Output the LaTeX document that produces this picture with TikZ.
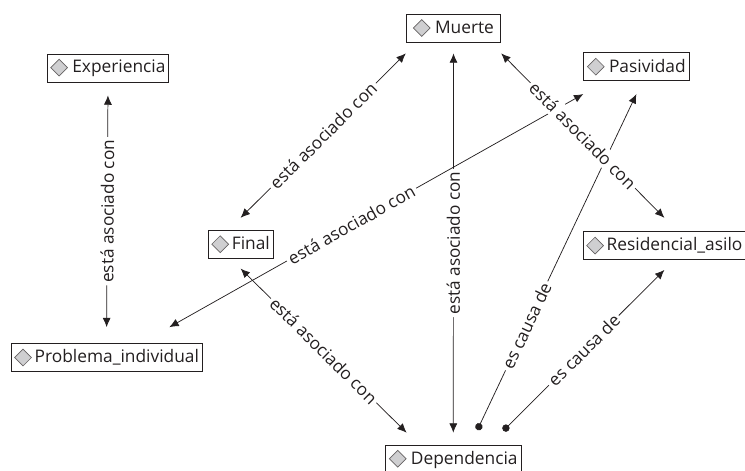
\documentclass[tikz,border=0pt]{standalone}
\usepackage{fontspec}
\setmainfont{Open Sans}
\usepackage{tikz}
\usetikzlibrary{positioning, arrows.meta}
\definecolor{inkline}{HTML}{231F20}
\definecolor{iconfill}{HTML}{CFCFD1}
\tikzstyle{concept} = [rectangle, draw=inkline, line width=0.6pt, inner xsep=2.5pt, inner ysep=1pt, minimum height=21pt, text=inkline, font=\fontsize{13}{15}\selectfont]
\tikzstyle{arrow} = [inkline, line width=0.55pt, {Latex[length=7pt,width=6pt]}-{Latex[length=7pt,width=6pt]}]
\tikzstyle{cause} = [inkline, line width=0.55pt, {Circle[length=5.5pt]}-{Latex[length=7pt,width=6pt]}]
\tikzstyle{linklabel} = [midway, sloped, fill=white, inner sep=2pt, text=inkline, font=\fontsize{12.9}{15}\selectfont]
\newcommand{\conceptmark}{\tikz[baseline=-4pt]\draw[inkline!70, line width=0.5pt, fill=iconfill] (0,6.3pt) -- (6.3pt,0) -- (0,-6.3pt) -- (-6.3pt,0) -- cycle;}
\begin{document}
\begin{tikzpicture}[node distance=1.2cm]
        \useasboundingbox (-340.1pt,21pt) rectangle (218.6pt,-331.5pt);
        \node (muerte) [concept, minimum width=71pt] {\conceptmark\ Muerte};
        \node (pasividad) [concept, right of=muerte, xshift=103pt, yshift=-29pt] {\conceptmark\ Pasividad};
        \node (experiencia) [concept, left of=muerte, xshift=-225pt, yshift=-30pt] {\conceptmark\ Experiencia};
        \node (final) [concept, below of=experiencia, xshift=99.5pt, yshift=-98pt] {\conceptmark\,Final};
        \node (problema) [concept, below of=experiencia, xshift=-1pt, yshift=-183pt] {\conceptmark\,Problema\_individual};
        \node (residencial) [concept, below of=pasividad, xshift=21pt, yshift=-100pt] {\conceptmark\,Residencial\_asilo};
        \node (dependencia) [concept, below of=problema, xshift=260pt, yshift=-42pt] {\conceptmark\ Dependencia};

        \draw [arrow] ([yshift=12pt]problema.north) -- ([yshift=-9.75pt]experiencia.south) node [linklabel] {está asociado con};
        \draw [arrow] ([yshift=-8.25pt]muerte.south west) -- ([yshift=9pt]final.north) node [linklabel] {está asociado con};
        \draw [arrow] ([yshift=9pt]dependencia.north) -- ([yshift=-8.25pt]muerte.south) node [linklabel] {está asociado con};
        \draw [arrow] ([yshift=-9.75pt]pasividad.south west) -- ([xshift=-25pt, yshift=12pt]problema.north east) node [linklabel, pos=0.56] {está asociado con};
        \draw [arrow] ([yshift=-7.5pt]final.south) -- ([xshift=16pt, yshift=9pt]dependencia.north west) node [linklabel] {está asociado con};
        \draw [cause] ([xshift=18pt, yshift=11pt]dependencia.north) -- ([yshift=-9.75pt]pasividad.south) node [linklabel, pos=0.31] {es causa de};
        \draw [cause] ([xshift=37.5pt, yshift=10.5pt]dependencia.north) -- ([yshift=-7.5pt]residencial.south) node [linklabel] {es causa de};
        \draw [arrow] ([yshift=-8.25pt]muerte.south east) -- ([yshift=10pt]residencial.north) node [linklabel] {está asociado con};
\end{tikzpicture}
\end{document}
